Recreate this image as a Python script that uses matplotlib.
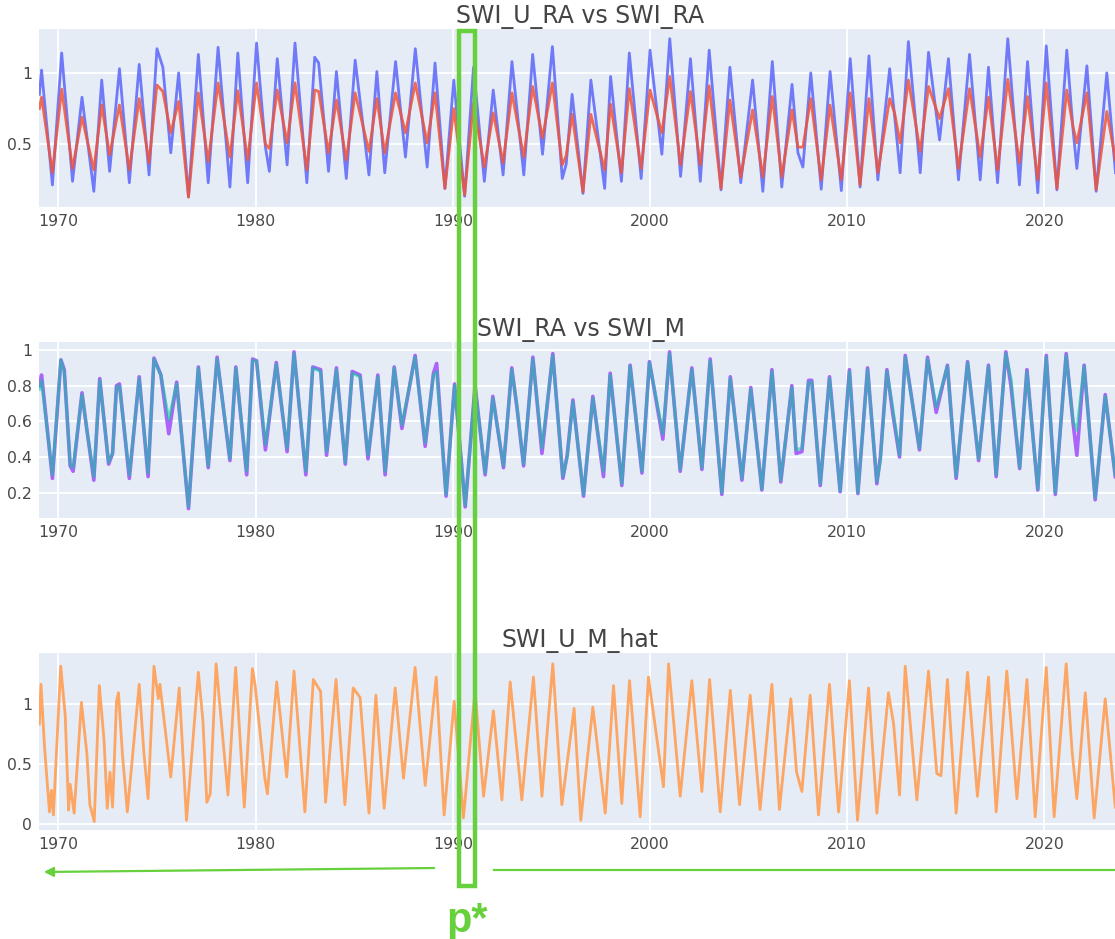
import matplotlib.pyplot as plt
from matplotlib.patches import Rectangle, FancyArrowPatch
from matplotlib.lines import Line2D

# panel 1: SWI_U_RA (blue) vs SWI_RA (red), read at peaks / troughs
t1 = [1969.04, 1969.15, 1969.7, 1970.17, 1970.72, 1971.2, 1971.8, 1972.2, 1972.6, 1973.1,
      1973.6, 1974.1, 1974.6, 1975.0, 1975.3, 1975.7, 1976.1, 1976.6, 1977.1, 1977.6,
      1978.1, 1978.7, 1979.1, 1979.6, 1980.05, 1980.5, 1980.7, 1981.1, 1981.6, 1982.0,
      1982.6, 1983.0, 1983.2, 1983.7, 1984.1, 1984.6, 1985.05, 1985.75, 1986.15, 1986.55,
      1987.1, 1987.6, 1988.1, 1988.7, 1989.1, 1989.6, 1990.05, 1990.6, 1991.05, 1991.6,
      1992.05, 1992.55, 1993.0, 1993.6, 1994.05, 1994.55, 1995.05, 1995.55, 1995.75, 1996.05,
      1996.6, 1997.0, 1997.7, 1998.0, 1998.55, 1998.95, 1999.55, 2000.0, 2000.6, 2001.0,
      2001.55, 2002.05, 2002.55, 2003.0, 2003.6, 2004.05, 2004.6, 2005.2, 2005.72, 2006.2,
      2006.68, 2007.2, 2007.5, 2007.75, 2008.15, 2008.68, 2009.13, 2009.7, 2010.15, 2010.65,
      2011.1, 2011.55, 2012.15, 2012.4, 2012.68, 2013.1, 2013.7, 2014.12, 2014.68, 2015.13,
      2015.64, 2016.2, 2016.74, 2017.16, 2017.62, 2018.14, 2018.73, 2019.14, 2019.66, 2020.09,
      2020.63, 2021.13, 2021.45, 2021.64, 2022.15, 2022.62, 2023.16, 2023.6]
swi_u_ra = [0.85, 1.02, 0.215, 1.14, 0.24, 0.83, 0.17, 0.95, 0.31, 1.03,
            0.23, 1.06, 0.285, 1.17, 1.04, 0.44, 1.0, 0.13, 1.13, 0.23,
            1.18, 0.20, 1.14, 0.23, 1.21, 0.48, 0.31, 1.10, 0.355, 1.21,
            0.23, 1.11, 1.07, 0.31, 1.01, 0.26, 1.09, 0.285, 1.01, 0.30,
            1.08, 0.41, 1.17, 0.34, 1.07, 0.19, 0.95, 0.135, 1.04, 0.24,
            0.88, 0.285, 1.08, 0.285, 1.13, 0.43, 1.185, 0.26, 0.36, 0.85,
            0.155, 0.95, 0.19, 0.975, 0.24, 1.14, 0.26, 1.16, 0.43, 1.24,
            0.275, 1.10, 0.24, 1.16, 0.18, 1.04, 0.23, 0.95, 0.17, 1.08,
            0.20, 0.92, 0.44, 0.34, 1.0, 0.185, 1.01, 0.175, 1.10, 0.20,
            1.12, 0.25, 1.03, 0.70, 0.30, 1.22, 0.30, 1.145, 0.53, 1.10,
            0.25, 1.13, 0.25, 1.04, 0.23, 1.24, 0.215, 1.08, 0.16, 1.19,
            0.18, 1.16, 0.60, 0.33, 1.05, 0.17, 1.0, 0.30]
swi_ra = [0.75, 0.83, 0.30, 0.886, 0.33, 0.69, 0.32, 0.775, 0.425, 0.775,
          0.32, 0.82, 0.37, 0.915, 0.87, 0.58, 0.80, 0.13, 0.86, 0.38,
          0.93, 0.41, 0.875, 0.39, 0.93, 0.50, 0.47, 0.88, 0.51, 0.93,
          0.32, 0.88, 0.87, 0.44, 0.81, 0.39, 0.86, 0.45, 0.82, 0.44,
          0.86, 0.58, 0.93, 0.51, 0.86, 0.19, 0.75, 0.145, 0.79, 0.34,
          0.72, 0.37, 0.86, 0.41, 0.905, 0.545, 0.93, 0.355, 0.42, 0.71,
          0.165, 0.71, 0.32, 0.78, 0.30, 0.89, 0.33, 0.88, 0.58, 0.975,
          0.355, 0.87, 0.355, 0.91, 0.19, 0.81, 0.27, 0.74, 0.27, 0.835,
          0.27, 0.74, 0.48, 0.48, 0.82, 0.25, 0.775, 0.25, 0.86, 0.215,
          0.82, 0.30, 0.82, 0.72, 0.51, 0.95, 0.45, 0.905, 0.68, 0.89,
          0.33, 0.89, 0.41, 0.83, 0.32, 0.955, 0.37, 0.835, 0.25, 0.93,
          0.19, 0.88, 0.62, 0.51, 0.86, 0.18, 0.73, 0.39]

# panel 2: SWI_RA (green) vs SWI_M (purple)
t2 = [1969.04, 1969.15, 1969.7, 1970.13, 1970.3, 1970.6, 1970.75, 1971.2, 1971.45, 1971.8,
      1972.1, 1972.55, 1972.75, 1972.95, 1973.1, 1973.6, 1974.1, 1974.55, 1974.85, 1975.2,
      1975.6, 1976.0, 1976.6, 1977.1, 1977.6, 1978.05, 1978.7, 1979.0, 1979.55, 1979.85,
      1980.05, 1980.5, 1981.05, 1981.6, 1981.95, 1982.55, 1982.9, 1983.3, 1983.6, 1984.1,
      1984.55, 1984.9, 1985.3, 1985.7, 1986.2, 1986.57, 1987.03, 1987.42, 1988.09, 1988.6,
      1989.02, 1989.18, 1989.66, 1990.09, 1990.63, 1991.13, 1991.64, 1992.03, 1992.57, 1992.99,
      1993.25, 1993.59, 1994.06, 1994.52, 1995.07, 1995.58, 1995.8, 1996.09, 1996.63, 1997.1,
      1997.64, 1997.98, 1998.57, 1998.99, 1999.59, 1999.97, 2000.65, 2000.99, 2001.53, 2002.12,
      2002.63, 2003.05, 2003.64, 2004.07, 2004.66, 2005.11, 2005.67, 2006.18, 2006.63, 2007.19,
      2007.41, 2007.7, 2008.04, 2008.2, 2008.63, 2009.1, 2009.64, 2010.11, 2010.54, 2011.03,
      2011.5, 2011.68, 2012.01, 2012.3, 2012.65, 2012.94, 2013.66, 2014.07, 2014.51, 2015.08,
      2015.52, 2016.1, 2016.66, 2017.16, 2017.55, 2018.04, 2018.3, 2018.74, 2019.11, 2019.66,
      2020.09, 2020.55, 2021.1, 2021.45, 2021.64, 2022.01, 2022.57, 2023.08, 2023.59]
swi_ra_2 = [0.78, 0.83, 0.30, 0.945, 0.88, 0.36, 0.34, 0.75, 0.55, 0.29,
            0.83, 0.37, 0.42, 0.79, 0.80, 0.30, 0.84, 0.31, 0.95, 0.86,
            0.61, 0.81, 0.12, 0.90, 0.35, 0.95, 0.39, 0.90, 0.32, 0.94,
            0.94, 0.47, 0.92, 0.45, 0.98, 0.32, 0.90, 0.88, 0.43, 0.89,
            0.37, 0.87, 0.85, 0.41, 0.85, 0.32, 0.90, 0.58, 0.96, 0.48,
            0.86, 0.88, 0.19, 0.80, 0.13, 0.79, 0.31, 0.73, 0.35, 0.89,
            0.69, 0.36, 0.95, 0.45, 0.97, 0.29, 0.40, 0.71, 0.19, 0.73,
            0.32, 0.86, 0.25, 0.91, 0.32, 0.93, 0.53, 0.98, 0.33, 0.89,
            0.34, 0.94, 0.20, 0.84, 0.28, 0.78, 0.22, 0.88, 0.27, 0.79,
            0.44, 0.45, 0.82, 0.82, 0.25, 0.84, 0.21, 0.88, 0.20, 0.89,
            0.26, 0.38, 0.88, 0.68, 0.41, 0.96, 0.45, 0.95, 0.68, 0.91,
            0.29, 0.93, 0.39, 0.91, 0.30, 0.98, 0.84, 0.34, 0.88, 0.22,
            0.96, 0.20, 0.97, 0.60, 0.55, 0.91, 0.17, 0.74, 0.30]
swi_m = [0.80, 0.86, 0.28, 0.945, 0.89, 0.35, 0.32, 0.76, 0.55, 0.27,
         0.84, 0.36, 0.42, 0.80, 0.81, 0.28, 0.85, 0.29, 0.955, 0.86,
         0.53, 0.82, 0.11, 0.905, 0.34, 0.96, 0.38, 0.905, 0.30, 0.95,
         0.94, 0.44, 0.93, 0.43, 0.99, 0.30, 0.905, 0.89, 0.41, 0.90,
         0.36, 0.88, 0.86, 0.39, 0.86, 0.30, 0.905, 0.56, 0.97, 0.46,
         0.87, 0.925, 0.18, 0.81, 0.12, 0.80, 0.30, 0.74, 0.34, 0.90,
         0.68, 0.35, 0.96, 0.42, 0.98, 0.28, 0.41, 0.72, 0.18, 0.74,
         0.29, 0.87, 0.24, 0.915, 0.31, 0.935, 0.50, 0.99, 0.32, 0.90,
         0.33, 0.95, 0.19, 0.85, 0.27, 0.79, 0.215, 0.89, 0.26, 0.80,
         0.42, 0.43, 0.83, 0.83, 0.24, 0.85, 0.205, 0.89, 0.195, 0.90,
         0.25, 0.40, 0.89, 0.65, 0.40, 0.97, 0.44, 0.96, 0.65, 0.915,
         0.28, 0.935, 0.38, 0.915, 0.29, 0.99, 0.80, 0.335, 0.89, 0.215,
         0.97, 0.19, 0.98, 0.59, 0.41, 0.915, 0.16, 0.75, 0.29]

# panel 3: SWI_U_M_hat (orange)
t3 = [1969.04, 1969.12, 1969.3, 1969.55, 1969.65, 1969.75, 1970.12, 1970.35, 1970.52, 1970.6,
      1970.8, 1971.17, 1971.45, 1971.6, 1971.82, 1972.08, 1972.32, 1972.48, 1972.62, 1972.75,
      1972.95, 1973.05, 1973.25, 1973.5, 1974.1, 1974.33, 1974.55, 1974.85, 1975.07, 1975.15,
      1975.7, 1976.13, 1976.5, 1977.1, 1977.33, 1977.53, 1977.7, 1978.0, 1978.6, 1978.99,
      1979.43, 1979.84, 1979.98, 1980.47, 1980.6, 1981.07, 1981.58, 1981.95, 1982.5, 1982.93,
      1983.3, 1983.55, 1984.08, 1984.53, 1984.95, 1985.3, 1985.75, 1986.1, 1986.52, 1987.08,
      1987.5, 1988.09, 1988.6, 1989.16, 1989.56, 1990.07, 1990.54, 1991.13, 1991.56, 1992.06,
      1992.49, 1992.91, 1993.5, 1994.09, 1994.52, 1995.07, 1995.53, 1996.15, 1996.49, 1997.1,
      1997.73, 1998.15, 1998.57, 1998.96, 1999.5, 1999.92, 2000.68, 2000.94, 2001.53, 2002.12,
      2002.63, 2003.02, 2003.56, 2004.07, 2004.54, 2005.08, 2005.58, 2006.18, 2006.56, 2007.14,
      2007.43, 2007.7, 2008.12, 2008.54, 2009.1, 2009.56, 2010.11, 2010.52, 2011.08, 2011.5,
      2012.09, 2012.35, 2012.65, 2012.94, 2013.53, 2014.12, 2014.54, 2014.75, 2015.08, 2015.52,
      2016.1, 2016.6, 2017.16, 2017.55, 2018.09, 2018.6, 2019.11, 2019.53, 2020.09, 2020.49,
      2021.1, 2021.4, 2021.64, 2022.07, 2022.52, 2023.08, 2023.59]
swi_u_m_hat = [0.83, 1.16, 0.64, 0.10, 0.28, 0.075, 1.31, 0.90, 0.115, 0.33,
               0.09, 1.01, 0.58, 0.16, 0.02, 1.15, 0.69, 0.13, 0.43, 0.14,
               1.02, 1.09, 0.58, 0.10, 1.16, 0.61, 0.21, 1.31, 1.04, 1.16,
               0.39, 1.13, 0.03, 1.26, 0.86, 0.18, 0.25, 1.33, 0.24, 1.30,
               0.14, 1.29, 1.15, 0.38, 0.25, 1.18, 0.39, 1.27, 0.10, 1.20,
               1.10, 0.18, 1.20, 0.16, 1.13, 1.05, 0.09, 1.07, 0.13, 1.13,
               0.38, 1.30, 0.32, 1.22, 0.075, 1.02, 0.05, 1.11, 0.23, 0.94,
               0.20, 1.18, 0.20, 1.22, 0.23, 1.33, 0.16, 0.96, 0.03, 0.97,
               0.09, 1.15, 0.17, 1.19, 0.06, 1.22, 0.31, 1.33, 0.23, 1.19,
               0.27, 1.20, 0.10, 1.11, 0.16, 1.07, 0.12, 1.16, 0.12, 1.04,
               0.43, 0.27, 1.07, 0.075, 1.16, 0.10, 1.19, 0.03, 1.13, 0.09,
               1.09, 0.83, 0.24, 1.31, 0.20, 1.27, 0.42, 0.40, 1.20, 0.09,
               1.26, 0.23, 1.22, 0.10, 1.27, 0.21, 1.20, 0.06, 1.30, 0.06,
               1.33, 0.60, 0.21, 1.09, 0.05, 1.04, 0.14]

year_ticks = [1970, 1980, 1990, 2000, 2010, 2020]
year_labels = ["1970", "1980", "1990", "2000", "2010", "2020"]

W, H = 1115, 939
fig = plt.figure(figsize=(W / 100, H / 100), dpi=100)
plt.rcParams['font.family'] = ['DejaVu Sans']
green = "#66d13c"


def panel(top, bottom, title, yticks, ylabels, ylim):
    ax = fig.add_axes([39 / W, 1 - bottom / H, (1122 - 39) / W, (bottom - top) / H])
    ax.set_facecolor("#E5ECF6")
    for s in ax.spines.values():
        s.set_visible(False)
    ax.grid(True, color="white", linewidth=1.3)
    ax.set_axisbelow(True)
    ax.set_xlim(1969.02, 2023.93)
    ax.set_ylim(*ylim)
    ax.set_xticks(year_ticks)
    ax.set_xticklabels(year_labels)
    ax.set_yticks(yticks)
    ax.set_yticklabels(ylabels)
    ax.tick_params(length=0, labelsize=11.3, labelcolor="#4a4a4a", pad=5)
    ax.set_title(title, fontsize=17, color="#444444", pad=4)
    return ax


ax1 = panel(29.3, 207.3, "SWI_U_RA vs SWI_RA", [0.5, 1], ["0.5", "1"], (0.058, 1.306))
ax1.plot(t1, swi_u_ra, color="#636efa", lw=2.0, alpha=0.9, solid_joinstyle="round")
ax1.plot(t1, swi_ra, color="#EF553B", lw=2.0, alpha=0.85, solid_joinstyle="round")

ax2 = panel(341.7, 518.3, "SWI_RA vs SWI_M", [0.2, 0.4, 0.6, 0.8, 1],
            ["0.2", "0.4", "0.6", "0.8", "1"], (0.056, 1.047))
ax2.plot(t2, swi_m, color="#ab63fa", lw=2.6, solid_joinstyle="round")
ax2.plot(t2, swi_ra_2, color="#00cc96", lw=2.2, alpha=0.55, solid_joinstyle="round")

ax3 = panel(653, 830, "SWI_U_M_hat", [0, 0.5, 1], ["0", "0.5", "1"], (-0.05, 1.42))
ax3.plot(t3, swi_u_m_hat, color="#FFA15A", lw=2.0, alpha=0.95, solid_joinstyle="round")

# green marker box, arrows and label drawn over the figure
fig.add_artist(Rectangle((458.5 / W, 1 - 886 / H), 16 / W, 855 / H, transform=fig.transFigure,
                         fill=False, edgecolor=green, lw=3.2, zorder=10))
fig.add_artist(Line2D([494 / W, 1.0], [1 - 869.5 / H, 1 - 869.5 / H], transform=fig.transFigure,
                      color=green, lw=1.6, zorder=10))
fig.add_artist(FancyArrowPatch((437 / W, 1 - 868 / H), (41 / W, 1 - 872 / H),
                               transform=fig.transFigure, arrowstyle="-|>",
                               mutation_scale=14, color=green, lw=1.6, zorder=10))
fig.text(467 / W, 1 - 932 / H, "p*", color=green, fontsize=30, fontweight="bold",
         family="Liberation Sans", ha="center", va="baseline", zorder=10)

plt.savefig("out.png", dpi=100)
